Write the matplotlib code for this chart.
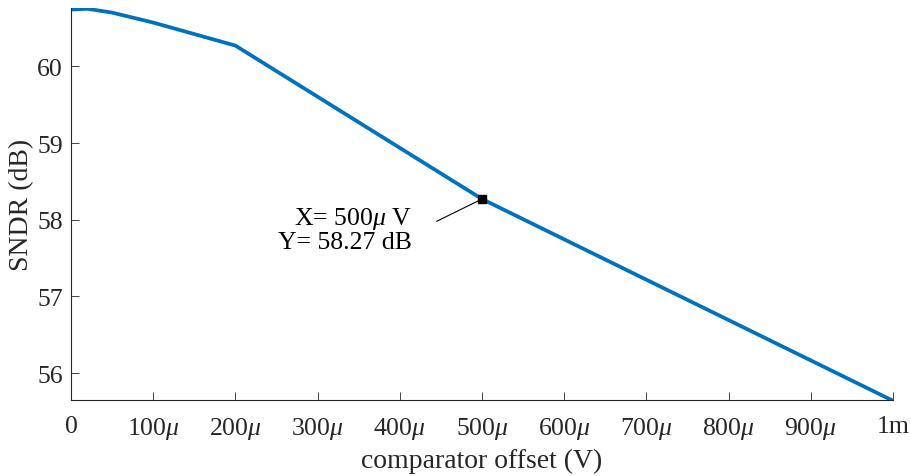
import matplotlib
matplotlib.use("Agg")
import matplotlib.pyplot as plt

offset = [0, 20e-6, 50e-6, 100e-6, 200e-6, 500e-6, 1e-3]
sndr = [60.74, 60.75, 60.70, 60.57, 60.27, 58.27, 55.64]
xticks = [i * 1e-4 for i in range(11)]
xticklabels = ['0'] + [r'%d$\mu$' % (i * 100) for i in range(1, 10)] + ['1m']
yticks = [56, 57, 58, 59, 60]

plt.rcParams['font.family'] = ['Liberation Serif', 'DejaVu Serif']
plt.rcParams['mathtext.fontset'] = 'custom'
plt.rcParams['mathtext.rm'] = 'Liberation Serif'
plt.rcParams['mathtext.it'] = 'Liberation Serif:italic'

fig = plt.figure(figsize=(9.12, 4.77), dpi=100)
ax = fig.add_axes([71/912, 76/477, (893-71)/912, (401-9)/477])
ax.plot(offset, sndr, color='#0072BD', lw=2.7)
ax.set_xlim(0, 1e-3)
ax.set_ylim(55.65, 60.76)
ax.set_xticks(xticks)
ax.set_xticklabels(xticklabels)
ax.set_yticks(yticks)
ax.tick_params(direction='in', length=6, width=0.6, labelsize=18.5, colors='#262626')
ax.tick_params(axis='x', pad=11)
ax.tick_params(axis='y', pad=6)
for s in ['top', 'right']:
    ax.spines[s].set_visible(False)
for s in ['left', 'bottom']:
    ax.spines[s].set_color('#262626')
    ax.spines[s].set_linewidth(0.8)
ax.set_xlabel('comparator offset (V)', fontsize=20, color='#262626', labelpad=5)
ax.set_ylabel('SNDR (dB)', fontsize=20, color='#262626', labelpad=2)

px, py = offset[5], sndr[5]
ax.plot([px], [py], marker='s', color='black', ms=6)
ax.text(0.000415, 57.88, 'X= 500$\\mu$ V\nY= 58.27 dB', ha='right', va='center',
        fontsize=18.5, color='black', multialignment='right', linespacing=1.05)
ax.plot([0.000445, px], [57.98, py], color='black', lw=0.8)
fig.savefig('out.png', dpi=100)
